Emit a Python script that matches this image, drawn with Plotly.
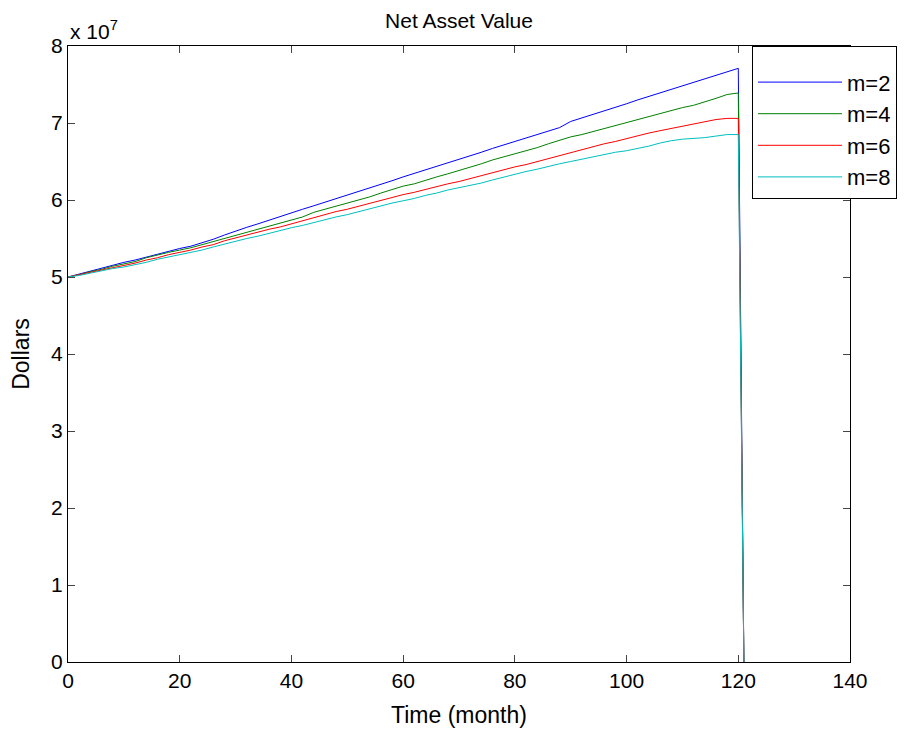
import plotly.graph_objects as go

months = list(range(0, 121, 2)) + [121]

nav_m2 = [5.00, 5.04, 5.08, 5.12, 5.16, 5.19, 5.22, 5.26, 5.30, 5.34, 5.37, 5.40, 5.44, 5.49, 5.545, 5.60,
          5.645, 5.69, 5.74, 5.785, 5.83, 5.88, 5.925, 5.97, 6.02, 6.065, 6.11, 6.16, 6.205, 6.25, 6.30,
          6.345, 6.39, 6.44, 6.485, 6.53, 6.575, 6.62, 6.67, 6.715, 6.76, 6.805, 6.85, 6.895, 6.94, 7.02,
          7.065, 7.11, 7.16, 7.205, 7.25, 7.30, 7.345, 7.39, 7.44, 7.485, 7.53, 7.575, 7.62, 7.665, 7.71, 0.0]
nav_m4 = [5.00, 5.03, 5.07, 5.10, 5.14, 5.17, 5.20, 5.25, 5.29, 5.32, 5.35, 5.38, 5.42, 5.46, 5.50, 5.55,
          5.58, 5.62, 5.66, 5.70, 5.74, 5.78, 5.84, 5.88, 5.91, 5.95, 5.99, 6.04, 6.09, 6.14, 6.18,
          6.21, 6.26, 6.30, 6.34, 6.38, 6.42, 6.47, 6.52, 6.56, 6.59, 6.63, 6.68, 6.73, 6.78, 6.82,
          6.85, 6.89, 6.93, 6.97, 7.01, 7.04, 7.08, 7.12, 7.16, 7.20, 7.23, 7.27, 7.32, 7.37, 7.39, 0.0]
nav_m6 = [5.00, 5.03, 5.06, 5.09, 5.12, 5.15, 5.18, 5.22, 5.25, 5.29, 5.32, 5.35, 5.39, 5.42, 5.47, 5.51,
          5.54, 5.58, 5.62, 5.65, 5.69, 5.73, 5.78, 5.82, 5.85, 5.88, 5.92, 5.96, 6.00, 6.04, 6.07,
          6.10, 6.14, 6.17, 6.21, 6.24, 6.28, 6.32, 6.35, 6.39, 6.43, 6.46, 6.50, 6.54, 6.58, 6.62,
          6.65, 6.69, 6.73, 6.76, 6.80, 6.83, 6.87, 6.90, 6.93, 6.96, 6.99, 7.02, 7.045, 7.06, 7.06, 0.0]
nav_m8 = [5.00, 5.02, 5.05, 5.08, 5.11, 5.13, 5.16, 5.19, 5.23, 5.26, 5.29, 5.32, 5.35, 5.39, 5.43, 5.47,
          5.50, 5.53, 5.57, 5.61, 5.64, 5.67, 5.71, 5.75, 5.78, 5.81, 5.85, 5.89, 5.92, 5.96, 5.99,
          6.02, 6.06, 6.09, 6.13, 6.16, 6.19, 6.22, 6.26, 6.30, 6.33, 6.37, 6.40, 6.44, 6.47, 6.50,
          6.53, 6.56, 6.59, 6.62, 6.64, 6.67, 6.70, 6.74, 6.77, 6.79, 6.80, 6.81, 6.83, 6.85, 6.85, 0.0]

series_names = ["m=2", "m=4", "m=6", "m=8"]
series_colors = ["#0000ff", "#008000", "#ff0000", "#00bfbf"]
series_values = [nav_m2, nav_m4, nav_m6, nav_m8]

y_tick_vals = [0, 1, 2, 3, 4, 5, 6, 7, 8]
y_tick_text = ["0", "1", "2", "3", "4", "5", "6", "7", "8"]
x_tick_vals = [0, 20, 40, 60, 80, 100, 120, 140]

FONT = "Liberation Sans, Arial, sans-serif"

fig = go.Figure()
for name, color, vals in zip(series_names, series_colors, series_values):
    fig.add_trace(go.Scatter(
        x=months, y=[v * 1e7 for v in vals], mode="lines", name=name,
        legendgroup=name, line=dict(color=color, width=1),
    ))

fig.update_layout(
    width=897, height=721,
    margin=dict(l=60, r=55, t=38, b=67, autoexpand=False),
    paper_bgcolor="white", plot_bgcolor="white",
    font=dict(family=FONT, size=21, color="black"),
    title=dict(text="Net Asset Value", x=0.5, xref="paper", xanchor="center",
               y=1, yref="container", yanchor="top", pad=dict(t=5),
               font=dict(size=21, color="black")),
    showlegend=True,
    legend=dict(x=0.8747, y=1.0, xanchor="left", yanchor="top",
                bgcolor="white", bordercolor="black", borderwidth=1,
                font=dict(size=22), tracegroupgap=6, itemwidth=84,
                traceorder="normal",
                title=dict(text=" ", font=dict(size=11))),
)
fig.update_xaxes(
    range=[0, 140], tickvals=x_tick_vals, ticks="inside", ticklen=7,
    showline=True, linecolor="black", linewidth=1, mirror="ticks",
    showgrid=False, zeroline=False, tickfont=dict(size=21), automargin=False,
    title=dict(text="Time (month)", font=dict(size=23), standoff=15),
)
fig.update_yaxes(
    range=[0, 8e7], tickvals=[v * 1e7 for v in y_tick_vals], ticktext=y_tick_text,
    ticks="inside", ticklen=7,
    showline=True, linecolor="black", linewidth=1, mirror="ticks",
    showgrid=False, zeroline=False, tickfont=dict(size=21), automargin=False,
    title=dict(text="Dollars", font=dict(size=23), standoff=16),
)
fig.add_annotation(
    text="x 10<sup>7</sup>", xref="paper", yref="paper", x=0, y=1,
    xanchor="left", yanchor="bottom", showarrow=False, yshift=1,
    font=dict(size=21, color="black"),
)
fig.write_html("out.html")
